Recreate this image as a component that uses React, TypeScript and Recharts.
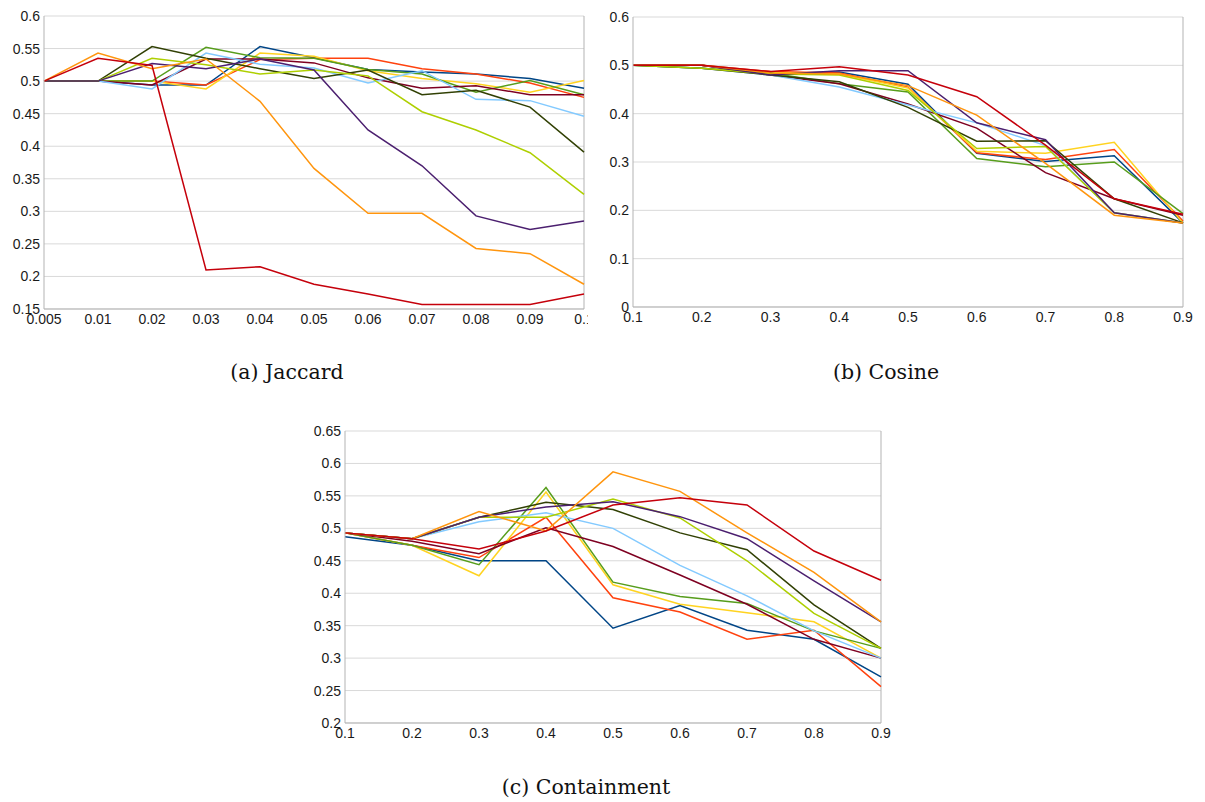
import { LineChart, Line, XAxis, YAxis, CartesianGrid, ReferenceLine } from 'recharts';

// LibreOffice default series palette, in series order
const palette = [
  '#004586', '#ff420e', '#ffd320', '#579d1c', '#7e0021', '#83caff',
  '#314004', '#aecf00', '#4b1f6f', '#ff950e', '#c5000b',
];

// (a) Jaccard
const jaccardX = ['0.005', '0.01', '0.02', '0.03', '0.04', '0.05', '0.06', '0.07', '0.08', '0.09', '0.1'];
const jaccardTicks = [0.15, 0.2, 0.25, 0.3, 0.35, 0.4, 0.45, 0.5, 0.55, 0.6];
const jaccardValues: number[][] = [
  [0.5, 0.5, 0.494, 0.494, 0.553, 0.536, 0.518, 0.514, 0.511, 0.504, 0.489],
  [0.5, 0.5, 0.5, 0.494, 0.533, 0.535, 0.535, 0.519, 0.511, 0.497, 0.475],
  [0.5, 0.5, 0.5, 0.488, 0.543, 0.538, 0.516, 0.504, 0.496, 0.483, 0.501],
  [0.5, 0.5, 0.5, 0.552, 0.536, 0.535, 0.518, 0.511, 0.483, 0.501, 0.479],
  [0.5, 0.5, 0.494, 0.534, 0.534, 0.528, 0.505, 0.489, 0.493, 0.479, 0.479],
  [0.5, 0.5, 0.488, 0.543, 0.526, 0.52, 0.497, 0.516, 0.472, 0.47, 0.446],
  [0.5, 0.5, 0.553, 0.535, 0.519, 0.504, 0.517, 0.479, 0.486, 0.46, 0.391],
  [0.5, 0.5, 0.535, 0.525, 0.511, 0.517, 0.508, 0.453, 0.425, 0.39, 0.326],
  [0.5, 0.5, 0.527, 0.519, 0.534, 0.517, 0.425, 0.37, 0.293, 0.272, 0.285],
  [0.5, 0.543, 0.519, 0.534, 0.469, 0.366, 0.297, 0.297, 0.243, 0.235, 0.188],
  [0.5, 0.535, 0.524, 0.21, 0.215, 0.188, 0.173, 0.157, 0.157, 0.157, 0.173],
];

// (b) Cosine
const cosineX = ['0.1', '0.2', '0.3', '0.4', '0.5', '0.6', '0.7', '0.8', '0.9'];
const cosineTicks = [0, 0.1, 0.2, 0.3, 0.4, 0.5, 0.6];
const cosineValues: number[][] = [
  [0.5, 0.5, 0.483, 0.486, 0.461, 0.318, 0.301, 0.313, 0.174],
  [0.5, 0.5, 0.487, 0.484, 0.455, 0.319, 0.305, 0.326, 0.178],
  [0.5, 0.5, 0.485, 0.482, 0.453, 0.322, 0.318, 0.341, 0.174],
  [0.5, 0.494, 0.484, 0.462, 0.445, 0.307, 0.29, 0.3, 0.193],
  [0.5, 0.5, 0.48, 0.462, 0.42, 0.37, 0.278, 0.224, 0.19],
  [0.5, 0.494, 0.48, 0.455, 0.418, 0.381, 0.334, 0.195, 0.174],
  [0.5, 0.494, 0.48, 0.466, 0.413, 0.343, 0.344, 0.224, 0.174],
  [0.5, 0.494, 0.482, 0.48, 0.448, 0.328, 0.332, 0.195, 0.174],
  [0.5, 0.5, 0.48, 0.489, 0.489, 0.381, 0.346, 0.195, 0.174],
  [0.5, 0.5, 0.484, 0.482, 0.458, 0.397, 0.297, 0.19, 0.174],
  [0.5, 0.5, 0.487, 0.497, 0.48, 0.435, 0.335, 0.224, 0.192],
];

// (c) Containment
const containX = ['0.1', '0.2', '0.3', '0.4', '0.5', '0.6', '0.7', '0.8', '0.9'];
const containTicks = [0.2, 0.25, 0.3, 0.35, 0.4, 0.45, 0.5, 0.55, 0.6, 0.65];
const containValues: number[][] = [
  [0.487, 0.474, 0.45, 0.45, 0.346, 0.381, 0.343, 0.329, 0.271],
  [0.493, 0.474, 0.455, 0.517, 0.393, 0.371, 0.329, 0.343, 0.256],
  [0.493, 0.474, 0.427, 0.556, 0.413, 0.383, 0.37, 0.356, 0.3],
  [0.493, 0.474, 0.444, 0.563, 0.417, 0.395, 0.384, 0.342, 0.315],
  [0.493, 0.48, 0.461, 0.501, 0.472, 0.428, 0.383, 0.329, 0.3],
  [0.493, 0.484, 0.51, 0.524, 0.5, 0.443, 0.396, 0.342, 0.3],
  [0.493, 0.484, 0.517, 0.54, 0.529, 0.493, 0.467, 0.382, 0.315],
  [0.493, 0.484, 0.517, 0.517, 0.545, 0.516, 0.45, 0.369, 0.315],
  [0.493, 0.484, 0.517, 0.533, 0.541, 0.518, 0.484, 0.419, 0.356],
  [0.493, 0.484, 0.526, 0.496, 0.587, 0.557, 0.493, 0.432, 0.356],
  [0.493, 0.484, 0.468, 0.496, 0.536, 0.547, 0.536, 0.465, 0.42],
];

const tickStyle = { fontSize: 14, fill: '#1a1a1a', fontFamily: '"Liberation Sans", Arial, sans-serif' };
const gridColor = '#d9d9d9';
const axisColor = '#b3b3b3';

function buildRows(xs: string[], values: number[][]) {
  return xs.map((x, i) => {
    const row: Record<string, string | number> = { x };
    values.forEach((s, j) => {
      row['s' + j] = s[i];
    });
    return row;
  });
}

interface PanelProps {
  left: number;
  top: number;
  width: number;
  height: number;
  yWidth: number;
  right: number;
  xs: string[];
  values: number[][];
  ticks: number[];
}

function Panel({ left, top, width, height, yWidth, right, xs, values, ticks }: PanelProps) {
  const data = buildRows(xs, values);
  return (
    <div style={{ position: 'absolute', left, top }}>
      <LineChart width={width} height={height} data={data} margin={{ top: 10, right, left: 0, bottom: 0 }}>
        <CartesianGrid stroke={gridColor} vertical={false} />
        <XAxis
          dataKey="x"
          interval={0}
          height={30}
          tick={tickStyle}
          tickLine={false}
          tickSize={0}
          tickMargin={5}
          axisLine={{ stroke: axisColor }}
        />
        <YAxis
          type="number"
          domain={[ticks[0], ticks[ticks.length - 1]]}
          ticks={ticks}
          interval={0}
          width={yWidth}
          tick={tickStyle}
          tickLine={false}
          tickSize={0}
          tickMargin={4}
          axisLine={{ stroke: axisColor }}
          tickFormatter={(v: number) => String(Math.round(v * 100) / 100)}
        />
        <ReferenceLine x={xs[xs.length - 1]} stroke={axisColor} />
        {values.map((_, j) => (
          <Line
            key={j}
            dataKey={'s' + j}
            type="linear"
            stroke={palette[j]}
            strokeWidth={1.5}
            dot={false}
            isAnimationActive={false}
          />
        ))}
      </LineChart>
    </div>
  );
}

const captionStyle = {
  position: 'absolute' as const,
  fontFamily: '"DejaVu Serif", "Liberation Serif", serif',
  fontSize: 20.5,
  color: '#111',
  textAlign: 'center' as const,
  width: 300,
};

export default function App() {
  return (
    <div style={{ position: 'absolute', left: 0, top: 0, width: 1205, height: 802, background: '#fff' }}>
      <Panel left={0} top={6} width={588} height={333} yWidth={44} right={4}
        xs={jaccardX} values={jaccardValues} ticks={jaccardTicks} />
      <Panel left={593} top={7} width={610} height={330} yWidth={40} right={20}
        xs={cosineX} values={cosineValues} ticks={cosineTicks} />
      <Panel left={300} top={421} width={601} height={332} yWidth={45} right={20}
        xs={containX} values={containValues} ticks={containTicks} />
      <div style={{ ...captionStyle, left: 137, top: 360 }}>(a) Jaccard</div>
      <div style={{ ...captionStyle, left: 736, top: 360 }}>(b) Cosine</div>
      <div style={{ ...captionStyle, left: 436, top: 775 }}>(c) Containment</div>
    </div>
  );
}
